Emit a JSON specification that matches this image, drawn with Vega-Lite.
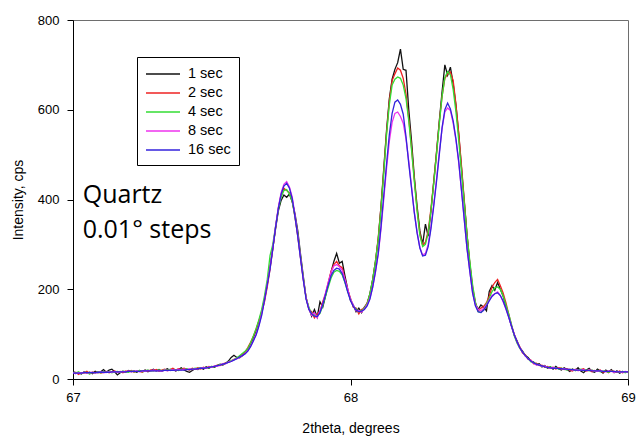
{
  "$schema": "https://vega.github.io/schema/vega-lite/v6.json",
  "width": 555,
  "height": 359,
  "autosize": {"type": "none"},
  "padding": {"left": 73, "top": 20, "right": 8, "bottom": 62},
  "background": "#ffffff",
  "config": {
    "view": {"stroke": "#6e6e6e", "strokeWidth": 1},
    "axis": {
      "labelFont": "Liberation Sans",
      "titleFont": "Liberation Sans",
      "labelColor": "#000000",
      "titleColor": "#000000",
      "titleFontWeight": "normal",
      "domainColor": "#000000",
      "tickColor": "#000000",
      "grid": false,
      "tickSize": 6,
      "labelOverlap": false
    },
    "legend": {
      "labelFont": "Liberation Sans"
    }
  },
  "datasets": {
    "scans": [
      {"t":67.00,"1 sec":18,"2 sec":12,"4 sec":15,"8 sec":14,"16 sec":13},
      {"t":67.01,"1 sec":12,"2 sec":15,"4 sec":13,"8 sec":12,"16 sec":13},
      {"t":67.02,"1 sec":14,"2 sec":10,"4 sec":16,"8 sec":14,"16 sec":13},
      {"t":67.03,"1 sec":11,"2 sec":14,"4 sec":12,"8 sec":13,"16 sec":13},
      {"t":67.04,"1 sec":16,"2 sec":13,"4 sec":15,"8 sec":15,"16 sec":14},
      {"t":67.05,"1 sec":13,"2 sec":17,"4 sec":14,"8 sec":13,"16 sec":14},
      {"t":67.06,"1 sec":15,"2 sec":12,"4 sec":11,"8 sec":14,"16 sec":14},
      {"t":67.07,"1 sec":12,"2 sec":15,"4 sec":15,"8 sec":15,"16 sec":14},
      {"t":67.08,"1 sec":17,"2 sec":14,"4 sec":13,"8 sec":13,"16 sec":14},
      {"t":67.09,"1 sec":14,"2 sec":16,"4 sec":16,"8 sec":15,"16 sec":15},
      {"t":67.10,"1 sec":16,"2 sec":13,"4 sec":14,"8 sec":16,"16 sec":15},
      {"t":67.11,"1 sec":21,"2 sec":15,"4 sec":16,"8 sec":14,"16 sec":15},
      {"t":67.12,"1 sec":15,"2 sec":17,"4 sec":15,"8 sec":15,"16 sec":15},
      {"t":67.13,"1 sec":20,"2 sec":14,"4 sec":17,"8 sec":16,"16 sec":15},
      {"t":67.14,"1 sec":22,"2 sec":16,"4 sec":14,"8 sec":15,"16 sec":16},
      {"t":67.15,"1 sec":16,"2 sec":18,"4 sec":16,"8 sec":17,"16 sec":16},
      {"t":67.16,"1 sec":9,"2 sec":15,"4 sec":17,"8 sec":15,"16 sec":16},
      {"t":67.17,"1 sec":14,"2 sec":17,"4 sec":15,"8 sec":16,"16 sec":16},
      {"t":67.18,"1 sec":17,"2 sec":14,"4 sec":18,"8 sec":17,"16 sec":16},
      {"t":67.19,"1 sec":15,"2 sec":18,"4 sec":16,"8 sec":16,"16 sec":16},
      {"t":67.20,"1 sec":19,"2 sec":16,"4 sec":15,"8 sec":18,"16 sec":17},
      {"t":67.21,"1 sec":16,"2 sec":19,"4 sec":18,"8 sec":16,"16 sec":17},
      {"t":67.22,"1 sec":18,"2 sec":15,"4 sec":16,"8 sec":17,"16 sec":17},
      {"t":67.23,"1 sec":15,"2 sec":18,"4 sec":17,"8 sec":18,"16 sec":17},
      {"t":67.24,"1 sec":19,"2 sec":17,"4 sec":19,"8 sec":16,"16 sec":17},
      {"t":67.25,"1 sec":17,"2 sec":15,"4 sec":16,"8 sec":18,"16 sec":18},
      {"t":67.26,"1 sec":20,"2 sec":19,"4 sec":18,"8 sec":17,"16 sec":18},
      {"t":67.27,"1 sec":16,"2 sec":17,"4 sec":20,"8 sec":19,"16 sec":18},
      {"t":67.28,"1 sec":19,"2 sec":20,"4 sec":17,"8 sec":18,"16 sec":18},
      {"t":67.29,"1 sec":22,"2 sec":18,"4 sec":19,"8 sec":20,"16 sec":18},
      {"t":67.30,"1 sec":18,"2 sec":21,"4 sec":18,"8 sec":18,"16 sec":18},
      {"t":67.31,"1 sec":21,"2 sec":17,"4 sec":20,"8 sec":19,"16 sec":18},
      {"t":67.32,"1 sec":17,"2 sec":20,"4 sec":18,"8 sec":17,"16 sec":18},
      {"t":67.33,"1 sec":20,"2 sec":22,"4 sec":21,"8 sec":20,"16 sec":19},
      {"t":67.34,"1 sec":23,"2 sec":19,"4 sec":19,"8 sec":18,"16 sec":19},
      {"t":67.35,"1 sec":19,"2 sec":21,"4 sec":22,"8 sec":20,"16 sec":19},
      {"t":67.36,"1 sec":22,"2 sec":24,"4 sec":20,"8 sec":21,"16 sec":19},
      {"t":67.37,"1 sec":18,"2 sec":20,"4 sec":21,"8 sec":19,"16 sec":20},
      {"t":67.38,"1 sec":21,"2 sec":23,"4 sec":19,"8 sec":22,"16 sec":20},
      {"t":67.39,"1 sec":25,"2 sec":21,"4 sec":22,"8 sec":20,"16 sec":20},
      {"t":67.40,"1 sec":20,"2 sec":24,"4 sec":21,"8 sec":22,"16 sec":20},
      {"t":67.41,"1 sec":17,"2 sec":22,"4 sec":23,"8 sec":21,"16 sec":21},
      {"t":67.42,"1 sec":15,"2 sec":20,"4 sec":21,"8 sec":23,"16 sec":21},
      {"t":67.43,"1 sec":19,"2 sec":24,"4 sec":22,"8 sec":21,"16 sec":22},
      {"t":67.44,"1 sec":23,"2 sec":22,"4 sec":24,"8 sec":23,"16 sec":22},
      {"t":67.45,"1 sec":21,"2 sec":25,"4 sec":23,"8 sec":22,"16 sec":23},
      {"t":67.46,"1 sec":25,"2 sec":22,"4 sec":25,"8 sec":24,"16 sec":24},
      {"t":67.47,"1 sec":22,"2 sec":26,"4 sec":24,"8 sec":25,"16 sec":24},
      {"t":67.48,"1 sec":27,"2 sec":24,"4 sec":26,"8 sec":24,"16 sec":25},
      {"t":67.49,"1 sec":24,"2 sec":28,"4 sec":25,"8 sec":27,"16 sec":26},
      {"t":67.50,"1 sec":28,"2 sec":26,"4 sec":28,"8 sec":26,"16 sec":27},
      {"t":67.51,"1 sec":26,"2 sec":29,"4 sec":27,"8 sec":29,"16 sec":28},
      {"t":67.52,"1 sec":30,"2 sec":31,"4 sec":30,"8 sec":28,"16 sec":30},
      {"t":67.53,"1 sec":33,"2 sec":30,"4 sec":32,"8 sec":31,"16 sec":31},
      {"t":67.54,"1 sec":31,"2 sec":34,"4 sec":33,"8 sec":34,"16 sec":33},
      {"t":67.55,"1 sec":35,"2 sec":36,"4 sec":35,"8 sec":34,"16 sec":35},
      {"t":67.56,"1 sec":40,"2 sec":37,"4 sec":38,"8 sec":38,"16 sec":37},
      {"t":67.57,"1 sec":48,"2 sec":40,"4 sec":41,"8 sec":39,"16 sec":39},
      {"t":67.58,"1 sec":53,"2 sec":44,"4 sec":43,"8 sec":43,"16 sec":42},
      {"t":67.59,"1 sec":48,"2 sec":46,"4 sec":47,"8 sec":45,"16 sec":45},
      {"t":67.60,"1 sec":47,"2 sec":50,"4 sec":52,"8 sec":48,"16 sec":49},
      {"t":67.61,"1 sec":52,"2 sec":55,"4 sec":57,"8 sec":52,"16 sec":52},
      {"t":67.62,"1 sec":58,"2 sec":60,"4 sec":62,"8 sec":57,"16 sec":56},
      {"t":67.63,"1 sec":66,"2 sec":70,"4 sec":68,"8 sec":63,"16 sec":62},
      {"t":67.64,"1 sec":78,"2 sec":82,"4 sec":80,"8 sec":73,"16 sec":72},
      {"t":67.65,"1 sec":92,"2 sec":95,"4 sec":96,"8 sec":86,"16 sec":85},
      {"t":67.66,"1 sec":108,"2 sec":112,"4 sec":112,"8 sec":100,"16 sec":98},
      {"t":67.67,"1 sec":128,"2 sec":130,"4 sec":132,"8 sec":120,"16 sec":118},
      {"t":67.68,"1 sec":150,"2 sec":148,"4 sec":155,"8 sec":145,"16 sec":142},
      {"t":67.69,"1 sec":178,"2 sec":172,"4 sec":185,"8 sec":176,"16 sec":175},
      {"t":67.70,"1 sec":212,"2 sec":205,"4 sec":222,"8 sec":212,"16 sec":210},
      {"t":67.71,"1 sec":250,"2 sec":245,"4 sec":275,"8 sec":248,"16 sec":245},
      {"t":67.72,"1 sec":292,"2 sec":290,"4 sec":300,"8 sec":292,"16 sec":290},
      {"t":67.73,"1 sec":335,"2 sec":338,"4 sec":340,"8 sec":340,"16 sec":338},
      {"t":67.74,"1 sec":375,"2 sec":380,"4 sec":378,"8 sec":383,"16 sec":380},
      {"t":67.75,"1 sec":398,"2 sec":410,"4 sec":405,"8 sec":415,"16 sec":412},
      {"t":67.76,"1 sec":410,"2 sec":425,"4 sec":420,"8 sec":434,"16 sec":430},
      {"t":67.77,"1 sec":405,"2 sec":420,"4 sec":422,"8 sec":440,"16 sec":436},
      {"t":67.78,"1 sec":412,"2 sec":415,"4 sec":412,"8 sec":428,"16 sec":425},
      {"t":67.79,"1 sec":395,"2 sec":398,"4 sec":396,"8 sec":405,"16 sec":402},
      {"t":67.80,"1 sec":368,"2 sec":360,"4 sec":362,"8 sec":365,"16 sec":362},
      {"t":67.81,"1 sec":330,"2 sec":318,"4 sec":322,"8 sec":320,"16 sec":318},
      {"t":67.82,"1 sec":278,"2 sec":270,"4 sec":272,"8 sec":270,"16 sec":268},
      {"t":67.83,"1 sec":228,"2 sec":222,"4 sec":225,"8 sec":222,"16 sec":220},
      {"t":67.84,"1 sec":180,"2 sec":182,"4 sec":180,"8 sec":180,"16 sec":178},
      {"t":67.85,"1 sec":158,"2 sec":155,"4 sec":160,"8 sec":156,"16 sec":155},
      {"t":67.86,"1 sec":140,"2 sec":150,"4 sec":145,"8 sec":142,"16 sec":145},
      {"t":67.87,"1 sec":155,"2 sec":136,"4 sec":143,"8 sec":148,"16 sec":140},
      {"t":67.88,"1 sec":138,"2 sec":145,"4 sec":140,"8 sec":136,"16 sec":139},
      {"t":67.89,"1 sec":172,"2 sec":150,"4 sec":146,"8 sec":152,"16 sec":148},
      {"t":67.90,"1 sec":160,"2 sec":172,"4 sec":163,"8 sec":168,"16 sec":166},
      {"t":67.91,"1 sec":185,"2 sec":190,"4 sec":185,"8 sec":192,"16 sec":188},
      {"t":67.92,"1 sec":212,"2 sec":215,"4 sec":205,"8 sec":216,"16 sec":210},
      {"t":67.93,"1 sec":238,"2 sec":240,"4 sec":225,"8 sec":238,"16 sec":230},
      {"t":67.94,"1 sec":262,"2 sec":255,"4 sec":238,"8 sec":252,"16 sec":242},
      {"t":67.95,"1 sec":280,"2 sec":262,"4 sec":242,"8 sec":255,"16 sec":247},
      {"t":67.96,"1 sec":258,"2 sec":252,"4 sec":240,"8 sec":250,"16 sec":245},
      {"t":67.97,"1 sec":262,"2 sec":248,"4 sec":232,"8 sec":243,"16 sec":235},
      {"t":67.98,"1 sec":230,"2 sec":222,"4 sec":215,"8 sec":222,"16 sec":216},
      {"t":67.99,"1 sec":200,"2 sec":198,"4 sec":195,"8 sec":200,"16 sec":194},
      {"t":68.00,"1 sec":175,"2 sec":180,"4 sec":178,"8 sec":178,"16 sec":175},
      {"t":68.01,"1 sec":165,"2 sec":160,"4 sec":163,"8 sec":165,"16 sec":162},
      {"t":68.02,"1 sec":150,"2 sec":158,"4 sec":156,"8 sec":152,"16 sec":154},
      {"t":68.03,"1 sec":158,"2 sec":145,"4 sec":150,"8 sec":153,"16 sec":150},
      {"t":68.04,"1 sec":148,"2 sec":155,"4 sec":152,"8 sec":149,"16 sec":151},
      {"t":68.05,"1 sec":160,"2 sec":158,"4 sec":158,"8 sec":156,"16 sec":155},
      {"t":68.06,"1 sec":168,"2 sec":170,"4 sec":168,"8 sec":165,"16 sec":163},
      {"t":68.07,"1 sec":190,"2 sec":188,"4 sec":190,"8 sec":180,"16 sec":178},
      {"t":68.08,"1 sec":222,"2 sec":220,"4 sec":222,"8 sec":205,"16 sec":205},
      {"t":68.09,"1 sec":262,"2 sec":262,"4 sec":262,"8 sec":238,"16 sec":240},
      {"t":68.10,"1 sec":312,"2 sec":315,"4 sec":310,"8 sec":278,"16 sec":280},
      {"t":68.11,"1 sec":385,"2 sec":385,"4 sec":380,"8 sec":335,"16 sec":340},
      {"t":68.12,"1 sec":470,"2 sec":465,"4 sec":460,"8 sec":402,"16 sec":410},
      {"t":68.13,"1 sec":555,"2 sec":550,"4 sec":545,"8 sec":470,"16 sec":480},
      {"t":68.14,"1 sec":625,"2 sec":620,"4 sec":612,"8 sec":530,"16 sec":545},
      {"t":68.15,"1 sec":668,"2 sec":665,"4 sec":655,"8 sec":572,"16 sec":592},
      {"t":68.16,"1 sec":690,"2 sec":680,"4 sec":668,"8 sec":592,"16 sec":617},
      {"t":68.17,"1 sec":705,"2 sec":693,"4 sec":673,"8 sec":595,"16 sec":622},
      {"t":68.18,"1 sec":735,"2 sec":688,"4 sec":670,"8 sec":585,"16 sec":612},
      {"t":68.19,"1 sec":690,"2 sec":670,"4 sec":655,"8 sec":570,"16 sec":590},
      {"t":68.20,"1 sec":688,"2 sec":635,"4 sec":625,"8 sec":535,"16 sec":540},
      {"t":68.21,"1 sec":600,"2 sec":580,"4 sec":575,"8 sec":485,"16 sec":480},
      {"t":68.22,"1 sec":530,"2 sec":515,"4 sec":510,"8 sec":428,"16 sec":425},
      {"t":68.23,"1 sec":450,"2 sec":445,"4 sec":440,"8 sec":372,"16 sec":370},
      {"t":68.24,"1 sec":385,"2 sec":378,"4 sec":375,"8 sec":328,"16 sec":325},
      {"t":68.25,"1 sec":330,"2 sec":325,"4 sec":320,"8 sec":293,"16 sec":292},
      {"t":68.26,"1 sec":300,"2 sec":298,"4 sec":295,"8 sec":276,"16 sec":274},
      {"t":68.27,"1 sec":345,"2 sec":305,"4 sec":300,"8 sec":280,"16 sec":276},
      {"t":68.28,"1 sec":318,"2 sec":330,"4 sec":325,"8 sec":300,"16 sec":295},
      {"t":68.29,"1 sec":375,"2 sec":380,"4 sec":375,"8 sec":340,"16 sec":335},
      {"t":68.30,"1 sec":440,"2 sec":440,"4 sec":435,"8 sec":390,"16 sec":385},
      {"t":68.31,"1 sec":505,"2 sec":505,"4 sec":500,"8 sec":445,"16 sec":440},
      {"t":68.32,"1 sec":575,"2 sec":572,"4 sec":568,"8 sec":505,"16 sec":500},
      {"t":68.33,"1 sec":640,"2 sec":630,"4 sec":630,"8 sec":558,"16 sec":560},
      {"t":68.34,"1 sec":700,"2 sec":670,"4 sec":672,"8 sec":595,"16 sec":600},
      {"t":68.35,"1 sec":677,"2 sec":680,"4 sec":685,"8 sec":604,"16 sec":615},
      {"t":68.36,"1 sec":695,"2 sec":684,"4 sec":678,"8 sec":598,"16 sec":602},
      {"t":68.37,"1 sec":658,"2 sec":665,"4 sec":645,"8 sec":570,"16 sec":575},
      {"t":68.38,"1 sec":610,"2 sec":612,"4 sec":595,"8 sec":532,"16 sec":535},
      {"t":68.39,"1 sec":545,"2 sec":548,"4 sec":532,"8 sec":482,"16 sec":485},
      {"t":68.40,"1 sec":470,"2 sec":475,"4 sec":462,"8 sec":420,"16 sec":420},
      {"t":68.41,"1 sec":395,"2 sec":398,"4 sec":392,"8 sec":355,"16 sec":355},
      {"t":68.42,"1 sec":320,"2 sec":322,"4 sec":320,"8 sec":290,"16 sec":290},
      {"t":68.43,"1 sec":255,"2 sec":258,"4 sec":262,"8 sec":240,"16 sec":240},
      {"t":68.44,"1 sec":200,"2 sec":205,"4 sec":210,"8 sec":192,"16 sec":192},
      {"t":68.45,"1 sec":168,"2 sec":170,"4 sec":172,"8 sec":165,"16 sec":163},
      {"t":68.46,"1 sec":155,"2 sec":152,"4 sec":150,"8 sec":155,"16 sec":150},
      {"t":68.47,"1 sec":165,"2 sec":158,"4 sec":148,"8 sec":152,"16 sec":148},
      {"t":68.48,"1 sec":160,"2 sec":162,"4 sec":156,"8 sec":158,"16 sec":153},
      {"t":68.49,"1 sec":152,"2 sec":170,"4 sec":168,"8 sec":165,"16 sec":163},
      {"t":68.50,"1 sec":195,"2 sec":185,"4 sec":180,"8 sec":176,"16 sec":174},
      {"t":68.51,"1 sec":208,"2 sec":205,"4 sec":195,"8 sec":186,"16 sec":184},
      {"t":68.52,"1 sec":198,"2 sec":215,"4 sec":203,"8 sec":190,"16 sec":190},
      {"t":68.53,"1 sec":215,"2 sec":222,"4 sec":205,"8 sec":194,"16 sec":192},
      {"t":68.54,"1 sec":200,"2 sec":208,"4 sec":200,"8 sec":186,"16 sec":186},
      {"t":68.55,"1 sec":185,"2 sec":192,"4 sec":185,"8 sec":172,"16 sec":174},
      {"t":68.56,"1 sec":162,"2 sec":170,"4 sec":165,"8 sec":156,"16 sec":157},
      {"t":68.57,"1 sec":140,"2 sec":145,"4 sec":145,"8 sec":138,"16 sec":138},
      {"t":68.58,"1 sec":118,"2 sec":120,"4 sec":122,"8 sec":118,"16 sec":118},
      {"t":68.59,"1 sec":98,"2 sec":100,"4 sec":96,"8 sec":99,"16 sec":99},
      {"t":68.60,"1 sec":85,"2 sec":82,"4 sec":80,"8 sec":83,"16 sec":83},
      {"t":68.61,"1 sec":70,"2 sec":72,"4 sec":68,"8 sec":70,"16 sec":70},
      {"t":68.62,"1 sec":62,"2 sec":58,"4 sec":60,"8 sec":60,"16 sec":60},
      {"t":68.63,"1 sec":52,"2 sec":54,"4 sec":52,"8 sec":51,"16 sec":52},
      {"t":68.64,"1 sec":48,"2 sec":44,"4 sec":46,"8 sec":45,"16 sec":45},
      {"t":68.65,"1 sec":40,"2 sec":42,"4 sec":38,"8 sec":41,"16 sec":40},
      {"t":68.66,"1 sec":38,"2 sec":34,"4 sec":37,"8 sec":35,"16 sec":36},
      {"t":68.67,"1 sec":32,"2 sec":35,"4 sec":33,"8 sec":31,"16 sec":33},
      {"t":68.68,"1 sec":34,"2 sec":30,"4 sec":31,"8 sec":32,"16 sec":31},
      {"t":68.69,"1 sec":27,"2 sec":31,"4 sec":29,"8 sec":28,"16 sec":29},
      {"t":68.70,"1 sec":30,"2 sec":26,"4 sec":28,"8 sec":29,"16 sec":27},
      {"t":68.71,"1 sec":24,"2 sec":28,"4 sec":25,"8 sec":26,"16 sec":26},
      {"t":68.72,"1 sec":27,"2 sec":24,"4 sec":27,"8 sec":24,"16 sec":25},
      {"t":68.73,"1 sec":22,"2 sec":26,"4 sec":24,"8 sec":26,"16 sec":24},
      {"t":68.74,"1 sec":28,"2 sec":22,"4 sec":25,"8 sec":23,"16 sec":24},
      {"t":68.75,"1 sec":23,"2 sec":25,"4 sec":22,"8 sec":24,"16 sec":23},
      {"t":68.76,"1 sec":20,"2 sec":24,"4 sec":24,"8 sec":22,"16 sec":23},
      {"t":68.77,"1 sec":25,"2 sec":21,"4 sec":22,"8 sec":23,"16 sec":22},
      {"t":68.78,"1 sec":21,"2 sec":23,"4 sec":20,"8 sec":21,"16 sec":22},
      {"t":68.79,"1 sec":17,"2 sec":20,"4 sec":22,"8 sec":22,"16 sec":21},
      {"t":68.80,"1 sec":22,"2 sec":18,"4 sec":21,"8 sec":20,"16 sec":21},
      {"t":68.81,"1 sec":19,"2 sec":22,"4 sec":19,"8 sec":21,"16 sec":20},
      {"t":68.82,"1 sec":25,"2 sec":19,"4 sec":20,"8 sec":19,"16 sec":20},
      {"t":68.83,"1 sec":18,"2 sec":21,"4 sec":22,"8 sec":20,"16 sec":20},
      {"t":68.84,"1 sec":14,"2 sec":23,"4 sec":19,"8 sec":21,"16 sec":19},
      {"t":68.85,"1 sec":20,"2 sec":18,"4 sec":20,"8 sec":18,"16 sec":19},
      {"t":68.86,"1 sec":24,"2 sec":20,"4 sec":18,"8 sec":20,"16 sec":19},
      {"t":68.87,"1 sec":17,"2 sec":16,"4 sec":20,"8 sec":19,"16 sec":18},
      {"t":68.88,"1 sec":15,"2 sec":19,"4 sec":17,"8 sec":18,"16 sec":18},
      {"t":68.89,"1 sec":22,"2 sec":17,"4 sec":19,"8 sec":17,"16 sec":18},
      {"t":68.90,"1 sec":18,"2 sec":20,"4 sec":16,"8 sec":19,"16 sec":18},
      {"t":68.91,"1 sec":13,"2 sec":15,"4 sec":18,"8 sec":17,"16 sec":17},
      {"t":68.92,"1 sec":20,"2 sec":18,"4 sec":17,"8 sec":16,"16 sec":17},
      {"t":68.93,"1 sec":16,"2 sec":14,"4 sec":15,"8 sec":18,"16 sec":17},
      {"t":68.94,"1 sec":21,"2 sec":19,"4 sec":18,"8 sec":17,"16 sec":17},
      {"t":68.95,"1 sec":14,"2 sec":17,"4 sec":16,"8 sec":15,"16 sec":17},
      {"t":68.96,"1 sec":18,"2 sec":15,"4 sec":17,"8 sec":17,"16 sec":16},
      {"t":68.97,"1 sec":13,"2 sec":18,"4 sec":15,"8 sec":16,"16 sec":16},
      {"t":68.98,"1 sec":17,"2 sec":14,"4 sec":17,"8 sec":15,"16 sec":16},
      {"t":68.99,"1 sec":15,"2 sec":16,"4 sec":14,"8 sec":17,"16 sec":16},
      {"t":69.00,"1 sec":16,"2 sec":15,"4 sec":16,"8 sec":15,"16 sec":16}
    ],
    "notes": [
      {"t":67.035,"I":392,"label":"Quartz"},
      {"t":67.035,"I":314,"label":"0.01° steps"}
    ]
  },
  "encoding": {
    "x": {
      "field": "t",
      "type": "quantitative",
      "scale": {"domain": [67, 69], "nice": false, "zero": false},
      "axis": {
        "title": "2theta, degrees",
        "tickCount": 2,
        "format": "d",
        "labelOverlap": false,
        "labelFlush": false,
        "labelFontSize": 13,
        "titleFontSize": 14,
        "labelPadding": 6,
        "titlePadding": 17
      }
    },
    "y": {
      "field": "I",
      "type": "quantitative",
      "scale": {"domain": [0, 800], "nice": false},
      "axis": {
        "title": "Intensity, cps",
        "values": [0, 200, 400, 600, 800],
        "labelFontSize": 13,
        "titleFontSize": 14,
        "labelPadding": 8,
        "titlePadding": 12
      }
    }
  },
  "layer": [
    {
      "data": {"name": "scans"},
      "transform": [
        {"fold": ["1 sec", "2 sec", "4 sec", "8 sec", "16 sec"], "as": ["scan", "I"]}
      ],
      "mark": {"type": "line", "strokeWidth": 1.3, "clip": true},
      "encoding": {
        "color": {
          "field": "scan",
          "type": "nominal",
          "scale": {
            "domain": ["1 sec", "2 sec", "4 sec", "8 sec", "16 sec"],
            "range": ["#111111", "#ee2222", "#33dd33", "#ee33ee", "#3322dd"]
          },
          "legend": {
            "title": null,
            "orient": "none",
            "legendX": 64,
            "legendY": 37,
            "symbolType": "M-1,0H3.25",
            "symbolSize": 256,
            "symbolStrokeWidth": 1.3,
            "labelOffset": 25,
            "labelFontSize": 14.5,
            "labelColor": "#000000",
            "strokeColor": "#000000",
            "fillColor": "#ffffff",
            "padding": 8,
            "rowPadding": 3
          }
        }
      }
    },
    {
      "data": {"name": "notes"},
      "mark": {"type": "text", "align": "left", "baseline": "alphabetic", "font": "Open Sans", "fontSize": 25, "color": "#000000"},
      "encoding": {
        "text": {"field": "label"}
      }
    }
  ]
}
